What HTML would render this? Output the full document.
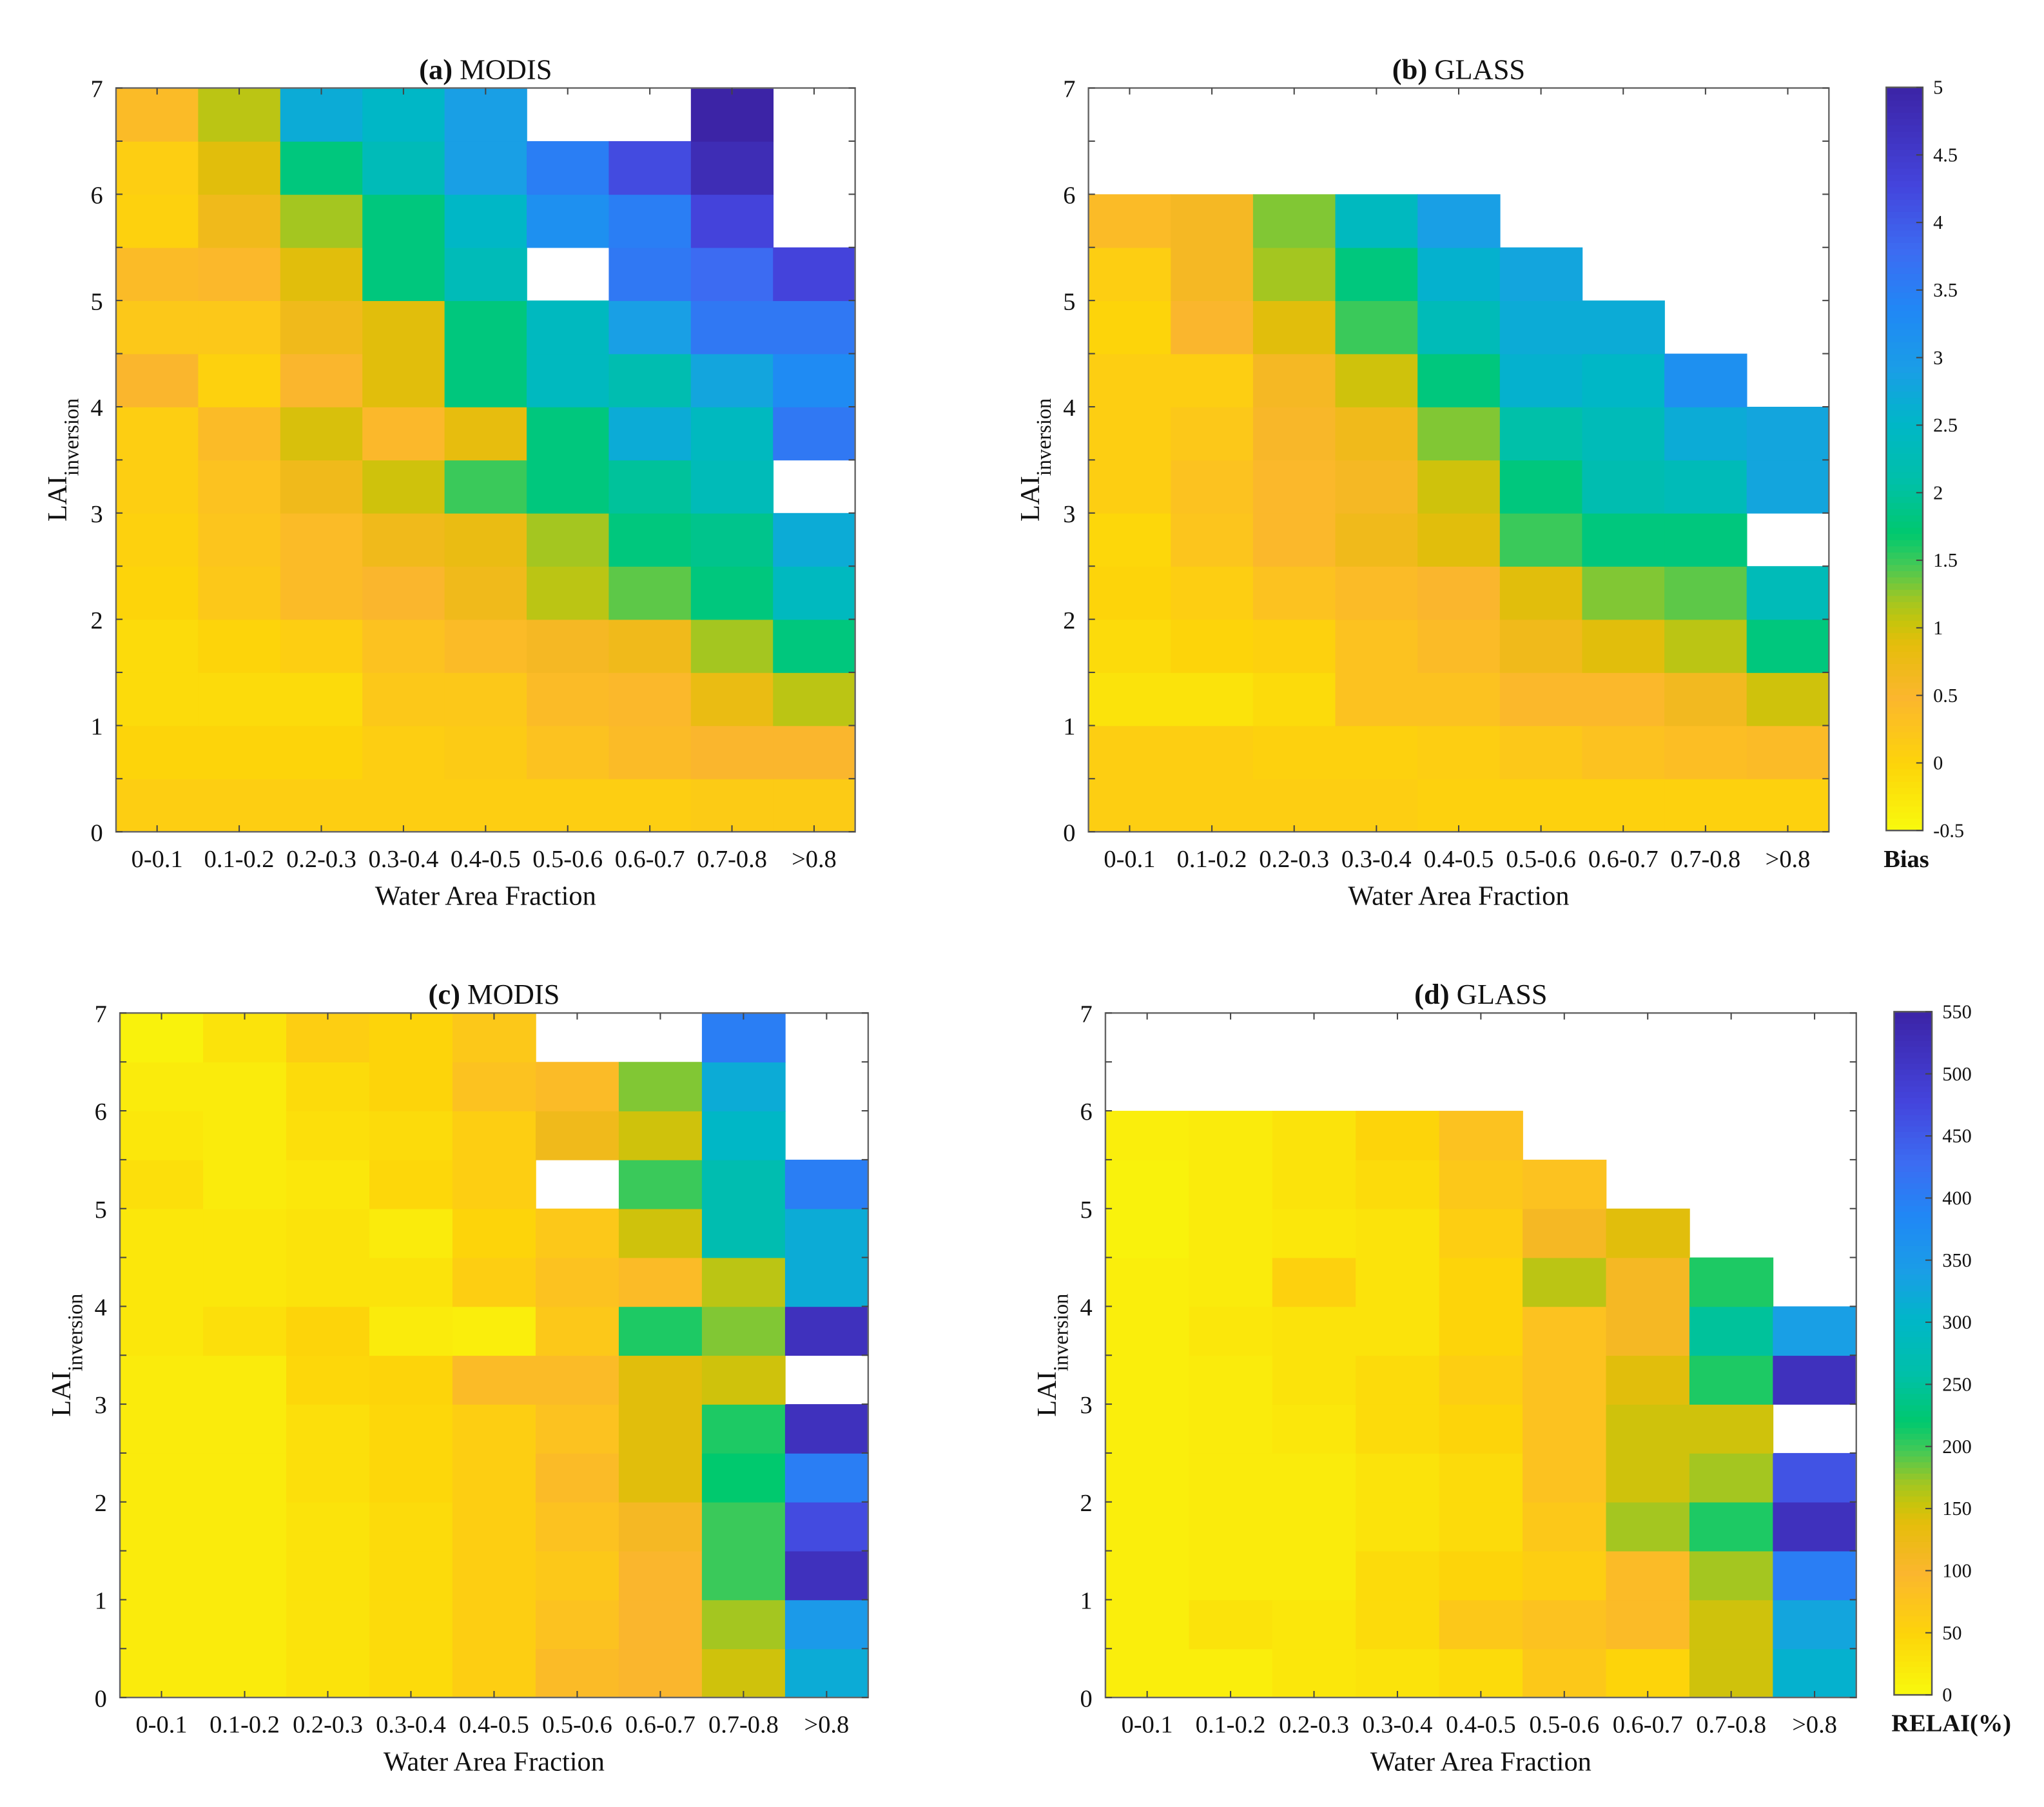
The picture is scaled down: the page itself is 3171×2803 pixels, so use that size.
<!DOCTYPE html>
<html><head><meta charset="utf-8"><style>
html,body{margin:0;padding:0;background:#fff;}
svg{display:block;}
text{font-family:"Liberation Serif",serif;fill:#111;}
</style></head><body>
<svg id="fig" xmlns="http://www.w3.org/2000/svg" width="3171" height="2803" viewBox="0 0 1568 1386" preserveAspectRatio="none"></svg>
<script>
const categories = ["0-0.1","0.1-0.2","0.2-0.3","0.3-0.4","0.4-0.5","0.5-0.6","0.6-0.7","0.7-0.8",">0.8"];
const yTicks = [0,1,2,3,4,5,6,7];
const biasTicks = [-0.5,0,0.5,1,1.5,2,2.5,3,3.5,4,4.5,5];
const relTicks = [0,50,100,150,200,250,300,350,400,450,500,550];
const N = null;
// rows bottom (0-0.5) to top (6.5-7)
const modisBias = [
[0.1,0.1,0.1,0.1,0.1,0.1,0.1,0.15,0.15],
[0,0,0,0.1,0.15,0.3,0.4,0.5,0.5],
[-0.1,-0.1,-0.1,0.2,0.2,0.4,0.45,0.8,1.1],
[-0.1,0,0.1,0.3,0.4,0.6,0.7,1.2,1.8],
[0,0.2,0.4,0.5,0.7,1.1,1.4,1.8,2.4],
[0.05,0.25,0.4,0.7,0.8,1.2,1.8,1.9,2.7],
[0.1,0.3,0.7,1.0,1.5,1.8,2.0,2.3,N],
[0.1,0.4,0.95,0.45,0.85,1.8,2.7,2.4,3.6],
[0.5,0.05,0.5,0.9,1.8,2.4,2.2,2.8,3.3],
[0.2,0.2,0.7,0.9,1.8,2.4,2.9,3.6,3.6],
[0.4,0.45,0.9,1.8,2.3,N,3.6,3.8,4.3],
[0.05,0.7,1.2,1.8,2.5,3.2,3.5,4.3,N],
[0.1,0.9,1.8,2.3,2.9,3.5,4.2,4.8,N],
[0.4,1.1,2.7,2.5,2.9,N,N,5,N]];
const glassBias = [
[0.1,0.1,0.1,0.1,0.05,0.05,0.05,0.05,0.05],
[0.1,0.1,0.05,0.05,0.1,0.2,0.3,0.35,0.4],
[-0.2,-0.2,-0.1,0.3,0.3,0.45,0.45,0.65,1.0],
[-0.1,0,0.05,0.3,0.4,0.7,0.9,1.1,1.8],
[0,0.1,0.3,0.4,0.5,0.9,1.3,1.4,2.3],
[-0.05,0.25,0.45,0.7,0.9,1.5,1.8,1.8,N],
[0.1,0.3,0.45,0.6,1.0,1.8,2.2,2.3,2.8],
[0.1,0.2,0.55,0.7,1.3,2.1,2.3,2.7,2.8],
[0.1,0.1,0.6,1.0,1.8,2.6,2.5,3.2,N],
[0,0.5,0.9,1.5,2.3,2.7,2.7,N,N],
[0.1,0.6,1.2,1.8,2.6,2.8,N,N,N],
[0.4,0.6,1.3,2.4,2.9,N,N,N,N],
[N,N,N,N,N,N,N,N,N],
[N,N,N,N,N,N,N,N,N]];
const modisRel = [
[20,20,30,40,60,90,100,150,320],
[20,20,30,40,60,80,100,170,350],
[20,20,30,40,60,70,100,200,520],
[20,20,30,40,60,80,110,200,470],
[20,20,35,45,60,90,140,220,400],
[20,20,35,45,60,80,140,210,520],
[20,20,45,50,90,90,140,150,N],
[25,35,50,20,15,70,210,180,520],
[25,25,30,30,60,80,90,160,320],
[25,25,30,20,50,70,150,270,320],
[35,20,25,45,60,N,200,270,400],
[25,20,35,40,60,120,150,300,N],
[20,20,40,50,80,90,180,320,N],
[10,30,60,50,70,N,N,400,N]];
const glassRel = [
[15,15,25,30,40,70,50,150,310],
[15,30,25,40,70,80,90,150,330],
[15,20,20,40,50,60,90,170,400],
[15,20,20,30,40,70,170,210,520],
[15,20,20,30,40,80,150,170,460],
[15,20,25,40,50,80,150,150,N],
[15,20,30,40,60,80,140,210,520],
[15,25,30,30,50,80,110,250,340],
[15,20,55,30,50,160,110,210,N],
[10,20,25,30,60,110,140,N,N],
[10,20,30,40,70,80,N,N,N],
[15,20,30,50,80,N,N,N,N],
[N,N,N,N,N,N,N,N,N],
[N,N,N,N,N,N,N,N,N]];

const stops=[[0,"#f8fa0d"],[0.09,"#fdd40a"],[0.18,"#fbb62e"],[0.25,"#e6bd0c"],[0.28,"#c8c40c"],[0.31,"#a3c621"],[0.36,"#40c958"],[0.40,"#00c96e"],[0.47,"#00c0a8"],[0.55,"#00b6c8"],[0.62,"#1a9ee6"],[0.70,"#2088f5"],[0.78,"#3c6cf2"],[0.87,"#4444dc"],[1,"#3c24a6"]];
function hex(h){return [1,3,5].map(i=>parseInt(h.substr(i,2),16));}
function cmap(t){t=Math.max(0,Math.min(1,t));for(let i=1;i<stops.length;i++){if(t<=stops[i][0]){const a=stops[i-1],b=stops[i];const f=(t-a[0])/(b[0]-a[0]);const A=hex(a[1]),B=hex(b[1]);return "rgb("+A.map((v,k)=>Math.round(v+(B[k]-v)*f)).join(",")+")";}}return stops[stops.length-1][1];}
const svg=document.getElementById('fig');
const NS="http://www.w3.org/2000/svg";
function el(tag,attrs,parent){const e=document.createElementNS(NS,tag);for(const k in attrs)e.setAttribute(k,attrs[k]);(parent||svg).appendChild(e);return e;}
function txt(s,x,y,size,anchor,parent,extra){const t=el('text',Object.assign({x:x,y:y,'font-size':size,'text-anchor':anchor||'middle'},extra||{}),parent);t.textContent=s;return t;}

function panel(name,label,title,data,x0,y0,x1,y1,vmin,vmax){
  const g=el('g',{});
  
  
  const nc=categories.length, nr=14;
  const xs=i=>x0+(x1-x0)*i/nc;
  const ys=v=>y1-(y1-y0)*v/7;
  for(let r=0;r<nr;r++)for(let c=0;c<nc;c++){
    const v=data[r][c]; if(v===null)continue;
    const rc=el('rect',{x:xs(c),y:ys((r+1)*0.5),width:xs(c+1)-xs(c)+0.4,height:ys(r*0.5)-ys((r+1)*0.5)+0.4,fill:cmap((v-vmin)/(vmax-vmin))},g);
    
    
  }
  el('rect',{x:x0,y:y0,width:x1-x0,height:y1-y0,fill:'none',stroke:'#666','stroke-width':1.2},g);
  categories.forEach((c,i)=>{const cx=(xs(i)+xs(i+1))/2;
    el('line',{x1:cx,y1:y1,x2:cx,y2:y1-5,stroke:'#444'},g);
    el('line',{x1:cx,y1:y0,x2:cx,y2:y0+5,stroke:'#444'},g);
    const t=txt(c,cx,y1+27,19,'middle',g);
    
    });
  for(let k=0;k<=14;k++){const yy=ys(k*0.5);
    el('line',{x1:x0,y1:yy,x2:x0+5,y2:yy,stroke:'#444'},g);
    el('line',{x1:x1,y1:yy,x2:x1-5,y2:yy,stroke:'#444'},g);}
  yTicks.forEach(v=>{const t=txt(String(v),x0-10,ys(v)+7,19,'end',g);
    
    });
  const tt=txt('',(x0+x1)/2,y0-7,22,'middle',g);
  
  
  const s1=document.createElementNS(NS,'tspan');s1.setAttribute('font-weight','bold');s1.textContent=label;tt.appendChild(s1);
  const s2=document.createElementNS(NS,'tspan');s2.textContent=title;tt.appendChild(s2);
  const xl=txt('Water Area Fraction',(x0+x1)/2,y1+56,21,'middle',g);
  
  
  const cy=(y0+y1)/2, lx=x0-38;
  const yl=el('text',{x:0,y:0,'font-size':21,'text-anchor':'middle',transform:'translate('+lx+','+cy+') rotate(-90)'},g);
  
  
  const t1=document.createElementNS(NS,'tspan');t1.textContent='LAI';yl.appendChild(t1);
  const t2=document.createElementNS(NS,'tspan');t2.setAttribute('font-size',16);t2.setAttribute('dy',9);t2.textContent='inversion';yl.appendChild(t2);
}
function colorbar(name,x0,y0,x1,y1,ticks,label){
  const g=el('g',{});
  
  
  const n=120,vmin=ticks[0],vmax=ticks[ticks.length-1];
  for(let i=0;i<n;i++){el('rect',{x:x0,y:y1-(y1-y0)*(i+1)/n,width:x1-x0,height:(y1-y0)/n+0.6,fill:cmap((i+0.5)/n)},g);}
  el('rect',{x:x0,y:y0,width:x1-x0,height:y1-y0,fill:'none',stroke:'#555','stroke-width':1.2},g);
  ticks.forEach(v=>{const yy=y1-(y1-y0)*(v-vmin)/(vmax-vmin);
    el('line',{x1:x1,y1:yy,x2:x1-5,y2:yy,stroke:'#444'},g);
    const t=txt(String(v),x1+8,yy+5,15,'start',g);
    
    });
  const l=txt(label,x0-2,y1+28,19,'start',g,{'font-weight':'bold'});
  
  
}
panel('panel-a-modis-bias','(a)',' MODIS',modisBias,89,67.5,656,638,-0.5,5);
panel('panel-b-glass-bias','(b)',' GLASS',glassBias,835,67.5,1403,638,-0.5,5);
panel('panel-c-modis-relai','(c)','   MODIS',modisRel,92,777,666,1302,0,550);
panel('panel-d-glass-relai','(d)','    GLASS',glassRel,848,777,1424,1302,0,550);
colorbar('bias-colorbar',1447,67,1475,637,biasTicks,'Bias');
colorbar('relai-colorbar',1453,776,1482,1300,relTicks,'RELAI(%)');
</script>
</body></html>
